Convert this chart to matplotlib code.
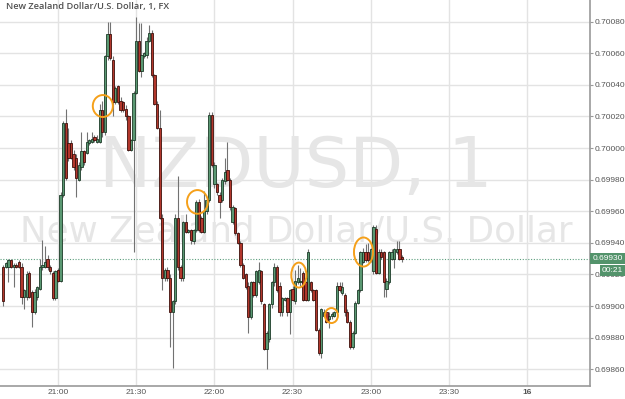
import matplotlib
matplotlib.use("Agg")
import matplotlib.pyplot as plt
import matplotlib.transforms as mtransforms
from matplotlib.patches import Ellipse, Rectangle
import numpy as np

# ---------------- data (1-minute NZDUSD bars, first bar at 20:39) ----------------
first_bar_offset = -21   # minutes relative to 21:00

opens = [
    0.69925, 0.69925, 0.69925, 0.69929, 0.69925, 0.69926, 0.69928, 0.69925, 0.69906, 0.69906,
    0.69921, 0.69909, 0.69896, 0.69906, 0.69911, 0.69925, 0.69925, 0.69930, 0.69925, 0.69921,
    0.69905, 0.69923, 0.69916, 0.69970, 0.70016, 0.70003, 0.70003, 0.69996, 0.69994, 0.69980,
    0.69988, 0.69998, 0.69997, 0.70003, 0.70004, 0.70007, 0.70004, 0.70004, 0.70024, 0.70010,
    0.70058, 0.70072, 0.70056, 0.70029, 0.70039, 0.70030, 0.70029, 0.70025, 0.70020, 0.69999,
    0.70005, 0.70035, 0.70068, 0.70049, 0.70058, 0.70059, 0.70068, 0.70073, 0.70046, 0.70028,
    0.70013, 0.69956, 0.69918, 0.69923, 0.69918, 0.69896, 0.69903, 0.69956, 0.69925, 0.69918,
    0.69953, 0.69947, 0.69948, 0.69941, 0.69948, 0.69966, 0.69956, 0.69947, 0.69960, 0.69967,
    0.70021, 0.69977, 0.69977, 0.69970, 0.69967, 0.69979, 0.69986, 0.69980, 0.69953, 0.69962,
    0.69946, 0.69940, 0.69926, 0.69920, 0.69913, 0.69893, 0.69915, 0.69907, 0.69915, 0.69922,
    0.69901, 0.69873, 0.69879, 0.69901, 0.69915, 0.69925, 0.69913, 0.69896, 0.69904, 0.69905,
    0.69896, 0.69911, 0.69903, 0.69915, 0.69915, 0.69921, 0.69915, 0.69904, 0.69915, 0.69910,
    0.69910, 0.69885, 0.69870, 0.69894, 0.69896, 0.69892, 0.69894, 0.69894, 0.69896, 0.69913,
    0.69908, 0.69907, 0.69896, 0.69890, 0.69874, 0.69883, 0.69902, 0.69910, 0.69928, 0.69934,
    0.69934, 0.69929, 0.69922, 0.69949, 0.69921, 0.69934, 0.69934, 0.69911, 0.69915, 0.69930,
    0.69930, 0.69934, 0.69936, 0.69931,
]
highs = [
    0.69926, 0.69928, 0.69930, 0.69930, 0.69927, 0.69927, 0.69929, 0.69927, 0.69911, 0.69922,
    0.69922, 0.69910, 0.69911, 0.69913, 0.69930, 0.69942, 0.69938, 0.69932, 0.69926, 0.69922,
    0.69923, 0.69924, 0.69972, 0.70017, 0.70025, 0.70013, 0.70005, 0.69999, 0.69996, 0.69991,
    0.70010, 0.69999, 0.70010, 0.70006, 0.70010, 0.70008, 0.70008, 0.70028, 0.70030, 0.70059,
    0.70080, 0.70080, 0.70058, 0.70039, 0.70040, 0.70032, 0.70030, 0.70027, 0.70021, 0.70006,
    0.70036, 0.70083, 0.70079, 0.70079, 0.70061, 0.70070, 0.70078, 0.70075, 0.70047, 0.70030,
    0.70024, 0.69958, 0.69924, 0.69925, 0.69920, 0.69904, 0.69958, 0.69982, 0.69926, 0.69954,
    0.69958, 0.69949, 0.69949, 0.69949, 0.69967, 0.69968, 0.69957, 0.69973, 0.69968, 0.70023,
    0.70023, 0.69991, 0.69978, 0.69972, 0.69981, 0.69994, 0.70004, 0.69981, 0.69964, 0.69963,
    0.69947, 0.69941, 0.69927, 0.69921, 0.69915, 0.69916, 0.69916, 0.69923, 0.69928, 0.69923,
    0.69902, 0.69884, 0.69902, 0.69916, 0.69927, 0.69926, 0.69915, 0.69906, 0.69906, 0.69906,
    0.69911, 0.69913, 0.69923, 0.69926, 0.69924, 0.69922, 0.69916, 0.69936, 0.69916, 0.69911,
    0.69911, 0.69886, 0.69899, 0.69898, 0.69897, 0.69896, 0.69896, 0.69897, 0.69915, 0.69915,
    0.69915, 0.69908, 0.69898, 0.69891, 0.69884, 0.69903, 0.69911, 0.69935, 0.69937, 0.69939,
    0.69940, 0.69937, 0.69951, 0.69951, 0.69936, 0.69936, 0.69935, 0.69918, 0.69935, 0.69936,
    0.69937, 0.69941, 0.69941, 0.69932,
]
lows = [
    0.69900, 0.69924, 0.69915, 0.69924, 0.69912, 0.69924, 0.69924, 0.69901, 0.69898, 0.69904,
    0.69905, 0.69887, 0.69895, 0.69904, 0.69910, 0.69923, 0.69924, 0.69923, 0.69920, 0.69904,
    0.69904, 0.69915, 0.69915, 0.69969, 0.69980, 0.69992, 0.69993, 0.69986, 0.69969, 0.69979,
    0.69986, 0.69989, 0.69996, 0.70002, 0.70003, 0.70004, 0.70003, 0.70003, 0.70007, 0.70008,
    0.70056, 0.70056, 0.70020, 0.70028, 0.70028, 0.70023, 0.70023, 0.70018, 0.69998, 0.69998,
    0.69934, 0.70034, 0.70048, 0.70045, 0.70057, 0.70057, 0.70067, 0.70045, 0.70027, 0.70012,
    0.69955, 0.69910, 0.69916, 0.69916, 0.69874, 0.69861, 0.69901, 0.69923, 0.69916, 0.69916,
    0.69946, 0.69946, 0.69939, 0.69939, 0.69947, 0.69947, 0.69946, 0.69946, 0.69958, 0.69966,
    0.69988, 0.69975, 0.69970, 0.69956, 0.69966, 0.69977, 0.69979, 0.69961, 0.69952, 0.69945,
    0.69939, 0.69925, 0.69917, 0.69911, 0.69883, 0.69892, 0.69906, 0.69906, 0.69914, 0.69901,
    0.69872, 0.69860, 0.69877, 0.69899, 0.69913, 0.69909, 0.69894, 0.69894, 0.69903, 0.69894,
    0.69882, 0.69903, 0.69901, 0.69914, 0.69913, 0.69903, 0.69903, 0.69903, 0.69909, 0.69903,
    0.69884, 0.69869, 0.69867, 0.69893, 0.69889, 0.69886, 0.69892, 0.69893, 0.69894, 0.69909,
    0.69907, 0.69894, 0.69889, 0.69873, 0.69873, 0.69882, 0.69901, 0.69909, 0.69927, 0.69928,
    0.69928, 0.69928, 0.69920, 0.69920, 0.69920, 0.69930, 0.69906, 0.69906, 0.69914, 0.69929,
    0.69924, 0.69933, 0.69929, 0.69928,
]
closes = [
    0.69903, 0.69927, 0.69929, 0.69925, 0.69926, 0.69925, 0.69925, 0.69906, 0.69910, 0.69920,
    0.69906, 0.69896, 0.69909, 0.69912, 0.69925, 0.69926, 0.69928, 0.69925, 0.69922, 0.69905,
    0.69922, 0.69916, 0.69970, 0.70016, 0.69981, 0.69994, 0.69994, 0.69988, 0.69981, 0.69989,
    0.69998, 0.69991, 0.70004, 0.70005, 0.70006, 0.70005, 0.70006, 0.70024, 0.70010, 0.70058,
    0.70072, 0.70057, 0.70029, 0.70038, 0.70029, 0.70024, 0.70024, 0.70020, 0.69999, 0.70005,
    0.70035, 0.70068, 0.70049, 0.70059, 0.70060, 0.70068, 0.70073, 0.70046, 0.70028, 0.70013,
    0.69956, 0.69918, 0.69923, 0.69918, 0.69896, 0.69903, 0.69956, 0.69925, 0.69918, 0.69953,
    0.69947, 0.69948, 0.69942, 0.69948, 0.69966, 0.69948, 0.69947, 0.69960, 0.69967, 0.70021,
    0.69989, 0.69989, 0.69972, 0.69966, 0.69980, 0.69985, 0.69980, 0.69963, 0.69963, 0.69946,
    0.69940, 0.69926, 0.69918, 0.69912, 0.69893, 0.69915, 0.69907, 0.69922, 0.69923, 0.69903,
    0.69873, 0.69883, 0.69901, 0.69915, 0.69925, 0.69910, 0.69896, 0.69905, 0.69905, 0.69896,
    0.69910, 0.69904, 0.69916, 0.69918, 0.69916, 0.69904, 0.69904, 0.69934, 0.69910, 0.69904,
    0.69885, 0.69870, 0.69898, 0.69896, 0.69890, 0.69894, 0.69895, 0.69896, 0.69913, 0.69910,
    0.69912, 0.69896, 0.69890, 0.69874, 0.69883, 0.69902, 0.69910, 0.69934, 0.69934, 0.69929,
    0.69929, 0.69936, 0.69950, 0.69921, 0.69934, 0.69931, 0.69915, 0.69916, 0.69934, 0.69934,
    0.69936, 0.69936, 0.69930, 0.69930,
]

last_price = 0.69930
countdown = "00:21"
price_ticks = [0.69860, 0.69880, 0.69900, 0.69920, 0.69940, 0.69960, 0.69980,
               0.70000, 0.70020, 0.70040, 0.70060, 0.70080]
time_ticks = [0, 30, 60, 90, 120, 150, 180]
time_labels = ["21:00", "21:30", "22:00", "22:30", "23:00", "23:30", "16"]

# hand-drawn highlight circles: (minute, price, width in minutes, height in price)
circles_t = [17.2, 53.5, 92.4, 104.9, 117.2]
circles_p = [0.700266, 0.699659, 0.699196, 0.698940, 0.699342]
circles_w = [7.7, 8.0, 5.8, 5.0, 7.3]
circles_h = [0.000139, 0.000150, 0.000158, 0.000095, 0.000184]

title = "New Zealand Dollar/U.S. Dollar, 1, FX"
wm_big = "NZDUSD, 1"
wm_small = "New Zealand Dollar/U.S. Dollar"

# ---------------- figure ----------------
W, H = 625, 399
fig = plt.figure(figsize=(W / 100, H / 100), dpi=100)
fig.patch.set_facecolor("white")
ax = fig.add_axes([0, 13 / H, 590 / W, 386 / H])
ax.set_facecolor("white")

x = np.arange(len(opens)) + first_bar_offset
o = np.array(opens); h = np.array(highs); l = np.array(lows); c = np.array(closes)
up = c >= o

ax.set_xlim(-22.25, 204.1)
ax.set_ylim(0.698494, 0.700937)

# grid
for t in time_ticks:
    ax.axvline(t, color="#e3e3e3", lw=1.0, zorder=0)
for p in price_ticks:
    ax.axhline(p, color="#e3e3e3", lw=1.0, zorder=0)

# watermark
ax.text(0.502, 0.565, wm_big, transform=ax.transAxes, ha="center", va="center",
        fontsize=50.5, color="#e6e6e6", family="DejaVu Sans", zorder=0.5)
ax.text(0.502, 0.399, wm_small, transform=ax.transAxes, ha="center", va="center",
        fontsize=25.7, color="#e6e6e6", family="DejaVu Sans", zorder=0.5)

# wicks
ax.vlines(x, l, h, color="#727272", lw=0.8, zorder=2)
# bodies
body_bottom = np.minimum(o, c)
body_h = np.maximum(np.abs(c - o), 0.000004)
up_fill, up_edge = "#5a9872", "#1c3a27"
dn_fill, dn_edge = "#b2372c", "#3d0f0b"
ax.bar(x[up], body_h[up], bottom=body_bottom[up], width=0.88,
       color=up_fill, edgecolor=up_edge, linewidth=0.6, zorder=3)
ax.bar(x[~up], body_h[~up], bottom=body_bottom[~up], width=0.88,
       color=dn_fill, edgecolor=dn_edge, linewidth=0.6, zorder=3)

# highlight circles
for ct, cp, cw, chh in zip(circles_t, circles_p, circles_w, circles_h):
    ax.add_patch(Ellipse((ct, cp), cw, chh, fill=False, edgecolor="#f5a01a",
                         lw=1.4, zorder=4))

# last price dotted line
ax.axhline(last_price, color="#5d9f7e", lw=0.8, ls=(0, (1, 1.5)), zorder=1)

# axes styling
for s in ["top", "left"]:
    ax.spines[s].set_visible(False)
for s in ["right", "bottom"]:
    ax.spines[s].set_color("#9a9a9a")
    ax.spines[s].set_linewidth(1.2)

ax.yaxis.tick_right()
ax.set_yticks(price_ticks)
ax.set_yticklabels([f"{p:.5f}" for p in price_ticks])
ax.tick_params(axis="y", direction="out", length=2.5, width=0.8, colors="#9a9a9a",
               labelcolor="#555555", labelsize=6, pad=1)
ax.set_xticks(time_ticks)
ax.set_xticklabels(time_labels)
ax.tick_params(axis="x", length=0, labelcolor="#555555", labelsize=6, pad=2.5)
for lab in ax.get_yticklabels() + ax.get_xticklabels():
    lab.set_family("Liberation Sans")
ax.get_xticklabels()[-1].set_fontweight("bold")

# title
ax.text(6 / 590, 1 - 2 / 386, title, transform=ax.transAxes, ha="left", va="top",
        fontsize=6.7, color="#505050", family="Open Sans", fontweight="semibold", zorder=5)

# price label boxes on the right
blend = mtransforms.blended_transform_factory(fig.transFigure, ax.transData)
px = (ax.get_ylim()[1] - ax.get_ylim()[0]) / 386.0
box_green = "#53936b"
r1 = Rectangle((590 / W, last_price - 5.5 * px), 35 / W, 11 * px, transform=blend,
               facecolor=box_green, edgecolor="none", zorder=10, clip_on=False)
fig.add_artist(r1)
fig.text(593 / W, last_price, f"{last_price:.5f}", transform=blend, ha="left", va="center",
         fontsize=6, color="white", family="Liberation Sans", zorder=11)
cd_center = last_price - 12.3 * px
r2 = Rectangle((600 / W, cd_center - 5.5 * px), 25 / W, 11 * px, transform=blend,
               facecolor=box_green, edgecolor="none", zorder=10, clip_on=False)
fig.add_artist(r2)
fig.text(602 / W, cd_center, countdown, transform=blend, ha="left", va="center",
         fontsize=6, color="white", family="Liberation Sans", zorder=11)

fig.savefig("out.png", dpi=100, facecolor="white")
